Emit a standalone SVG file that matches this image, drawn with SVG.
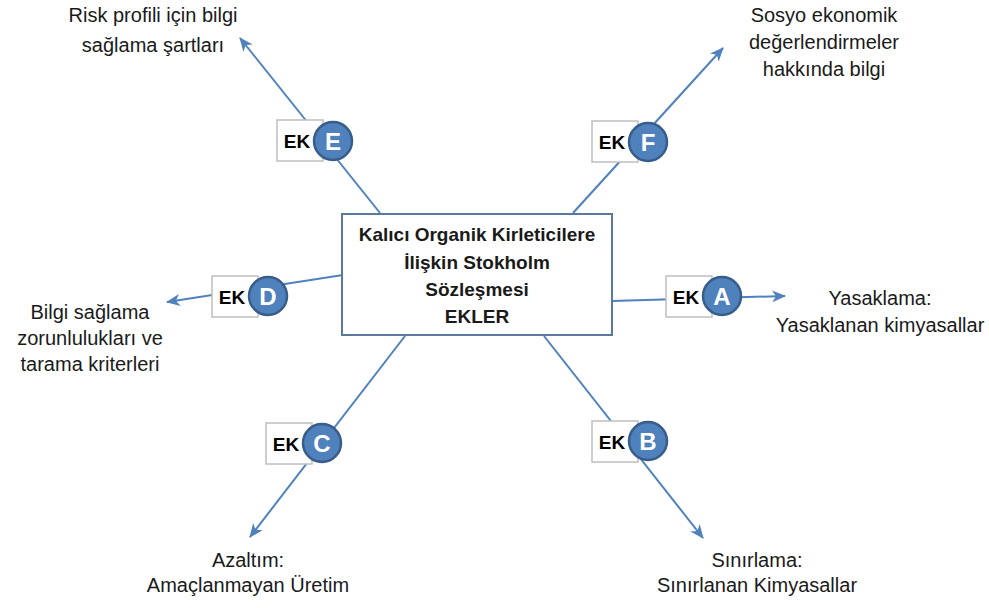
<svg xmlns="http://www.w3.org/2000/svg" width="989" height="608" viewBox="0 0 989 608">
<style>
.ln{stroke:#4F81BD;stroke-width:2;fill:none;marker-end:url(#arr)}
.ek{fill:#fff;stroke:#BFBFBF;stroke-width:1.5}
.ekt{font-family:"Liberation Sans",Arial,sans-serif;font-weight:bold;font-size:19px;fill:#000;text-anchor:middle}
.cir{fill:#4F81BD;stroke:#385D8A;stroke-width:2.5}
.cl{font-family:"Liberation Sans",Arial,sans-serif;font-weight:bold;font-size:24px;fill:#fff;text-anchor:middle}
.lbl{font-family:"Liberation Sans",Arial,sans-serif;font-size:20px;fill:#1a1a1a;text-anchor:middle}
.ctr{font-family:"Liberation Sans",Arial,sans-serif;font-weight:bold;font-size:19px;fill:#1a1a1a;text-anchor:middle}
</style>
<defs>
<marker id="arr" viewBox="0 0 14 12" refX="13" refY="6" markerWidth="14" markerHeight="12" orient="auto" markerUnits="userSpaceOnUse">
<path d="M0,0 L14,6 L0,12 L4,6 z" fill="#4F81BD"/>
</marker>
</defs>
<rect width="989" height="608" fill="#fff"/>
<g id="connectors">
<line class="ln" x1="380" y1="213" x2="240" y2="38"/>
<line class="ln" x1="573" y1="213" x2="723" y2="48"/>
<line class="ln" x1="343" y1="275" x2="167" y2="302"/>
<line class="ln" x1="612" y1="301" x2="785" y2="296"/>
<line class="ln" x1="405" y1="336" x2="250" y2="537"/>
<line class="ln" x1="544" y1="336" x2="703" y2="538"/>
</g>
<g id="center">
<rect x="342" y="214" width="270" height="121" fill="#fff" stroke="#5A78A0" stroke-width="2"/>
<text class="ctr" x="477" y="241">Kalıcı Organik Kirleticilere</text>
<text class="ctr" x="477" y="269">İlişkin Stokholm</text>
<text class="ctr" x="477" y="296">Sözleşmesi</text>
<text class="ctr" x="477" y="323">EKLER</text>
</g>
<g id="ekE">
<rect class="ek" x="277" y="120" width="46" height="41"/>
<text class="ekt" x="297" y="148">EK</text>
<circle class="cir" cx="333" cy="141" r="19"/>
<text class="cl" x="333" y="150">E</text>
</g>
<g id="ekF">
<rect class="ek" x="592" y="121" width="46" height="41"/>
<text class="ekt" x="612" y="149">EK</text>
<circle class="cir" cx="648" cy="142" r="19"/>
<text class="cl" x="648" y="151">F</text>
</g>
<g id="ekD">
<rect class="ek" x="212" y="276" width="46" height="41"/>
<text class="ekt" x="232" y="304">EK</text>
<circle class="cir" cx="268" cy="296" r="19"/>
<text class="cl" x="268" y="305">D</text>
</g>
<g id="ekA">
<rect class="ek" x="666" y="276" width="46" height="41"/>
<text class="ekt" x="686" y="304">EK</text>
<circle class="cir" cx="722" cy="296" r="19"/>
<text class="cl" x="722" y="305">A</text>
</g>
<g id="ekC">
<rect class="ek" x="266" y="423" width="46" height="41"/>
<text class="ekt" x="286" y="451">EK</text>
<circle class="cir" cx="322" cy="443" r="19"/>
<text class="cl" x="322" y="452">C</text>
</g>
<g id="ekB">
<rect class="ek" x="592" y="421" width="46" height="41"/>
<text class="ekt" x="612" y="449">EK</text>
<circle class="cir" cx="648" cy="441" r="19"/>
<text class="cl" x="648" y="450">B</text>
</g>
<g id="labelE">
<text class="lbl" x="153" y="22">Risk profili için bilgi</text>
<text class="lbl" x="153" y="52">sağlama şartları</text>
</g>
<g id="labelF">
<text class="lbl" x="824" y="22">Sosyo ekonomik</text>
<text class="lbl" x="824" y="49">değerlendirmeler</text>
<text class="lbl" x="824" y="76">hakkında bilgi</text>
</g>
<g id="labelA">
<text class="lbl" x="880" y="305">Yasaklama:</text>
<text class="lbl" x="880" y="332">Yasaklanan kimyasallar</text>
</g>
<g id="labelD">
<text class="lbl" x="90" y="319">Bilgi sağlama</text>
<text class="lbl" x="90" y="345">zorunlulukları ve</text>
<text class="lbl" x="90" y="371">tarama kriterleri</text>
</g>
<g id="labelC">
<text class="lbl" x="248" y="567">Azaltım:</text>
<text class="lbl" x="248" y="592">Amaçlanmayan Üretim</text>
</g>
<g id="labelB">
<text class="lbl" x="757" y="567">Sınırlama:</text>
<text class="lbl" x="757" y="592">Sınırlanan Kimyasallar</text>
</g>
</svg>
